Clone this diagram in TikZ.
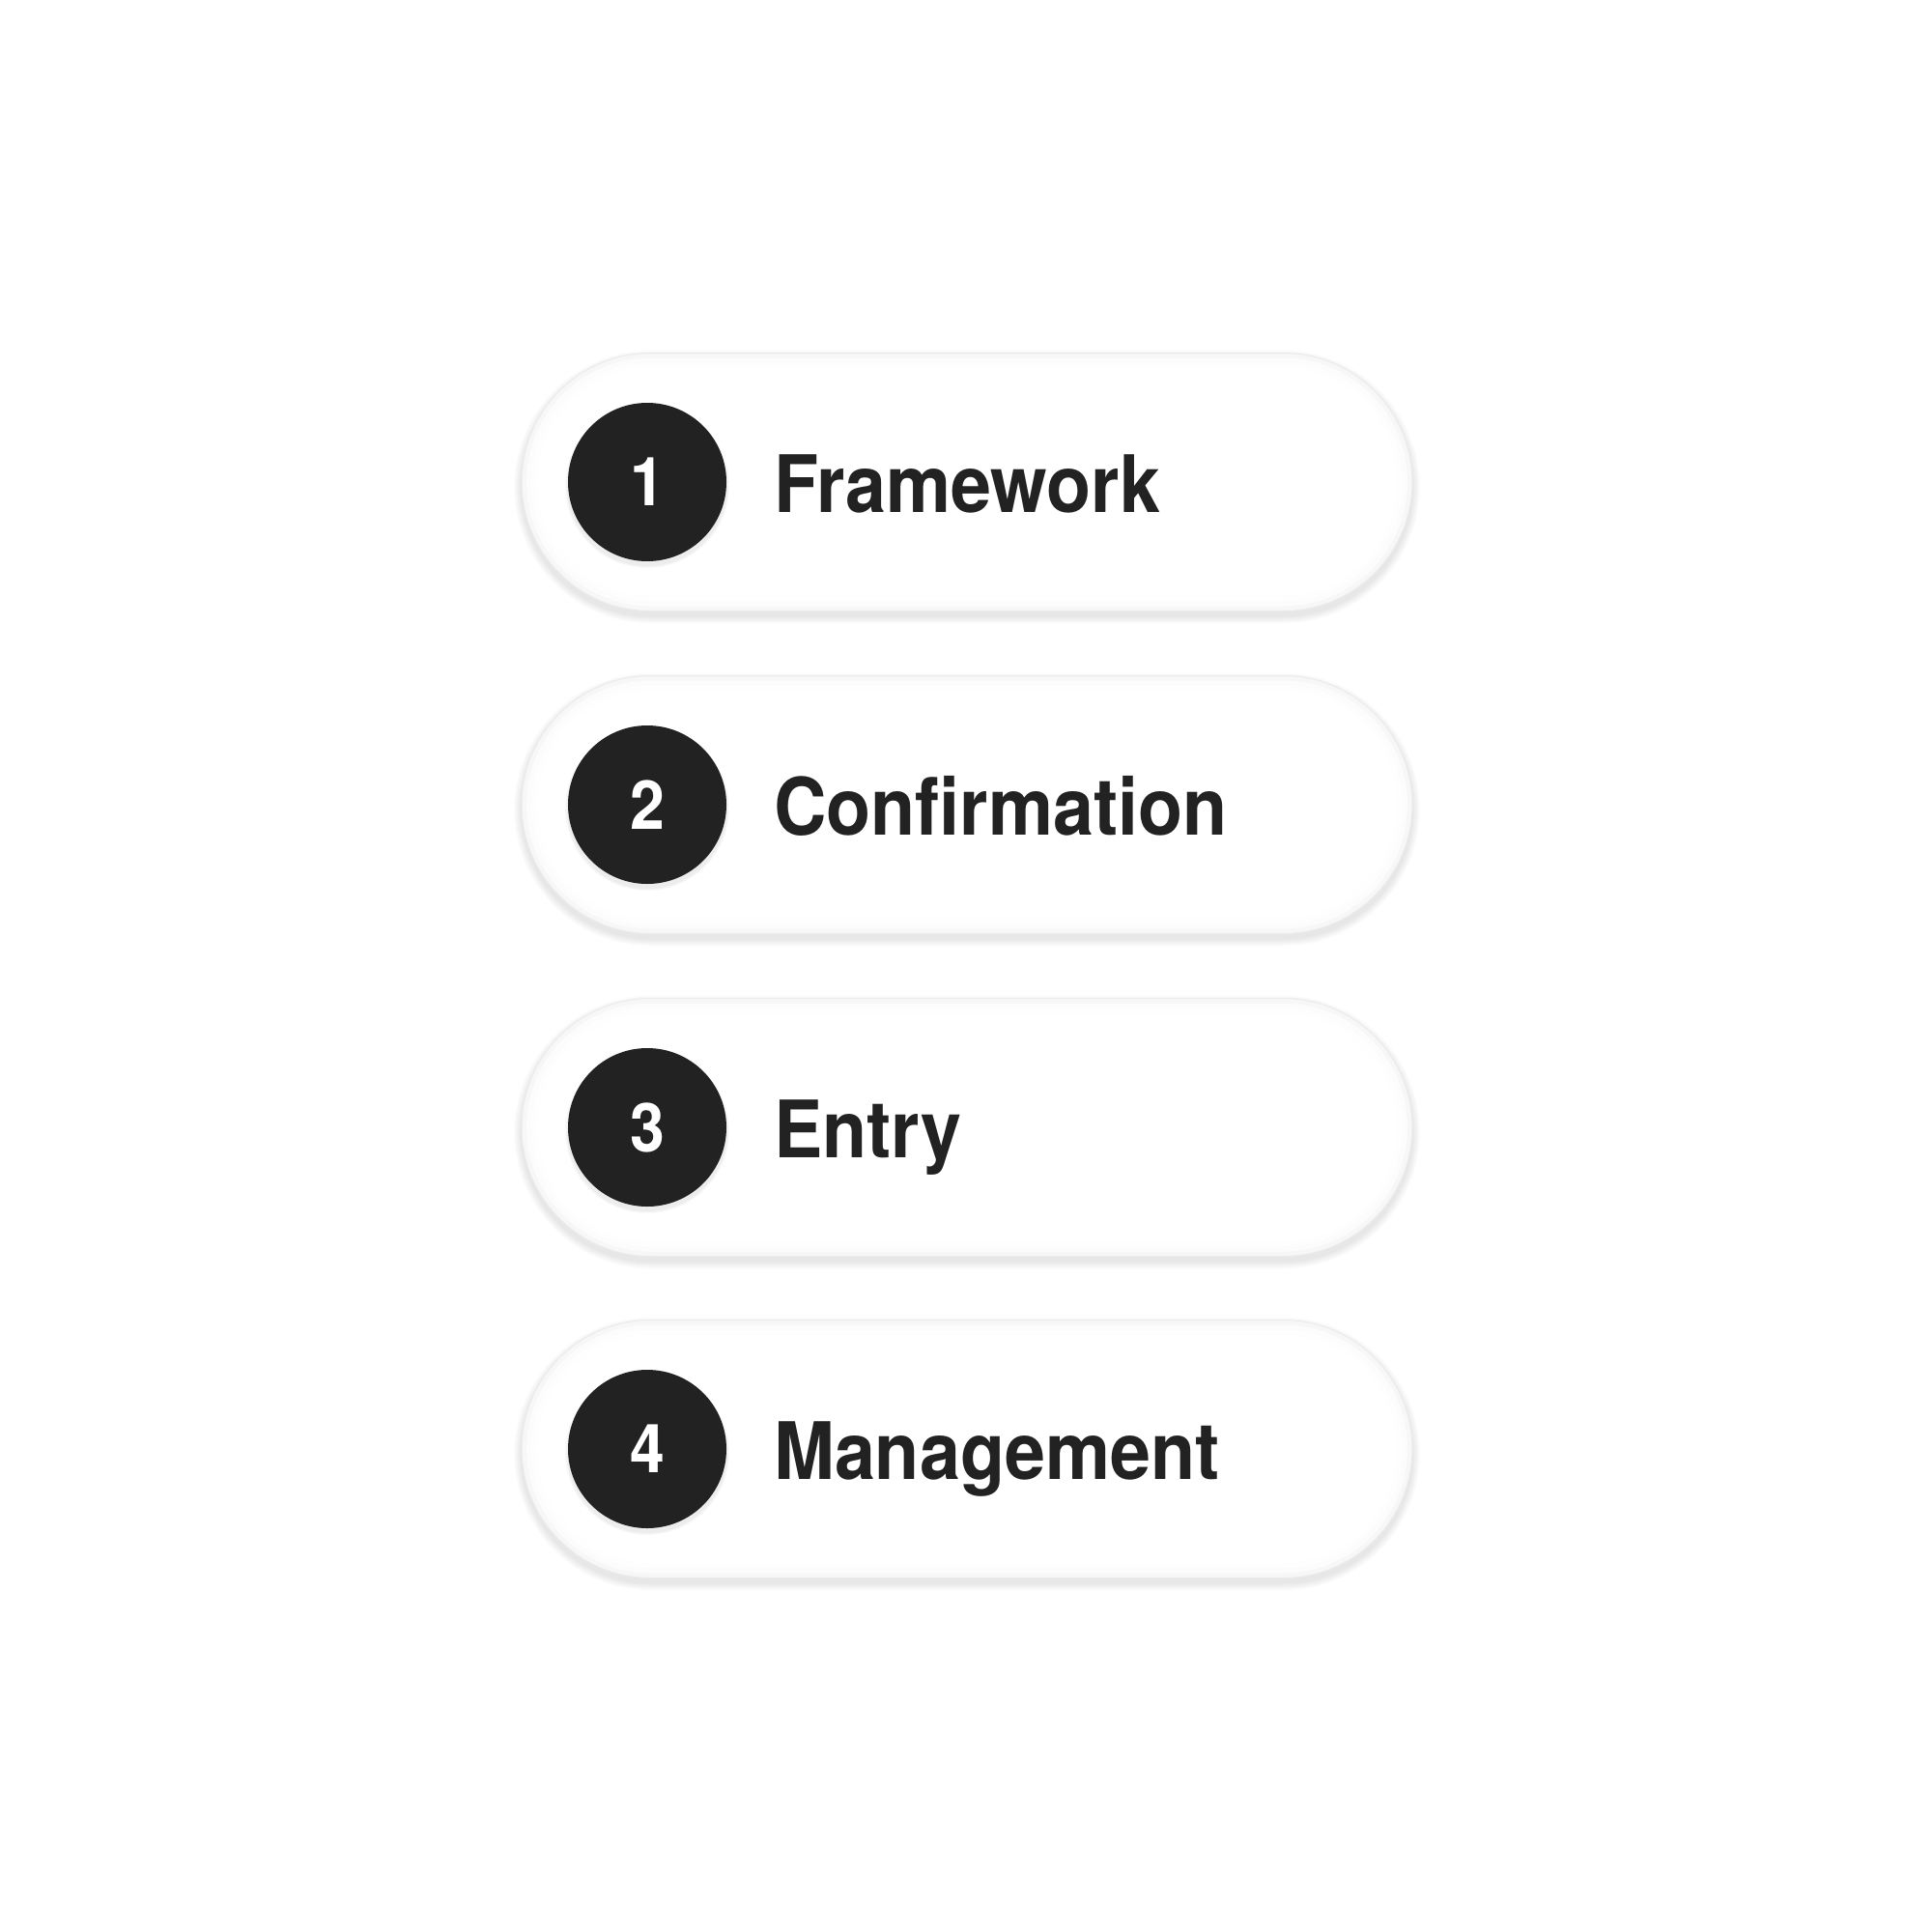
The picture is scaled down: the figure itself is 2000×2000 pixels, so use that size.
\documentclass[tikz,border=0pt]{standalone}
\usepackage{fontspec}
\setmainfont{TeX Gyre Heros}[FakeStretch=0.92]
\usetikzlibrary{shapes.misc}
\definecolor{ink}{HTML}{222222}
\definecolor{pilledge}{HTML}{EBEBEB}
\definecolor{pillrim}{HTML}{F7F7F7}
\begin{document}
\begin{tikzpicture}[x=1pt,y=-1pt,
  pillshape/.style={shape=rounded rectangle, inner sep=0pt, outer sep=0pt},
  pill/.style={pillshape, minimum width=922pt, minimum height=267pt, fill=pillrim, draw=pilledge, line width=1pt},
  pillshadow/.style={pillshape, fill=black, fill opacity=0.01, draw=none},
  badge/.style={circle, inner sep=0pt, outer sep=0pt, minimum size=164pt, fill=ink},
  badgeshadow/.style={circle, inner sep=0pt, minimum size=164pt, fill=black, fill opacity=0.03},
  numtext/.style={text=white, font=\fontsize{70}{70}\selectfont\bfseries, inner sep=0pt},
  labeltext/.style={text=ink, font=\fontsize{82}{82}\selectfont\bfseries, inner sep=0pt, anchor=base west}
]
\fill[white] (0,0) rectangle (2000,2000);
\useasboundingbox (0,0) rectangle (2000,2000);
\foreach \yy/\nn/\lab/\id in {499/1/Framework/a, 833/2/Confirmation/b, 1167/3/Entry/c, 1500/4/Management/d}{
  % soft shadow
  \foreach \k in {2,4,...,16}{
    \node[pillshadow, minimum width=922pt+\k pt, minimum height=267pt+\k pt] at (1001,\yy+5) {};
  }
  \node[pill] (pill\id) at (1001,\yy) {};
  % inner fade to white
  \foreach \k/\c in {5/60,10/85,16/100}{
    \node[pillshape, minimum width=922pt-2*\k pt, minimum height=267pt-2*\k pt, fill=white!\c!pillrim] at (1001,\yy) {};
  }
  % badge
  \foreach \k in {2,4,6}{
    \node[badgeshadow, minimum size=164pt+\k pt, fill opacity=0.025] at (670,\yy+4) {};
  }
  \node[badge] (badge\id) at (670,\yy) {};
  \node[numtext] (num\id) at (badge\id.center) {\nn};
  \node[labeltext] (label\id) at (801,\yy+31) {\lab};
}
\end{tikzpicture}
\end{document}
